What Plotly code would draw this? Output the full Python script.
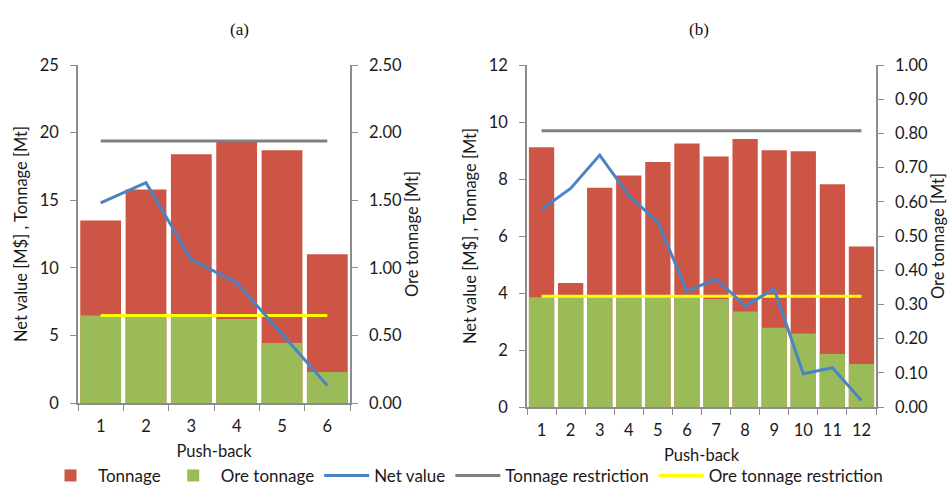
import plotly.graph_objects as go

# ---------------- data ----------------
pb_a = ["1", "2", "3", "4", "5", "6"]
tonnage_a = [13.5, 15.8, 18.4, 19.3, 18.7, 11.0]
ore_a = [0.647, 0.647, 0.647, 0.622, 0.444, 0.230]
net_a = [14.8, 16.3, 10.6, 8.9, 5.1, 1.3]
ton_restr_a = 19.37
ore_restr_a = 0.647

pb_b = ["1", "2", "3", "4", "5", "6", "7", "8", "9", "10", "11", "12"]
tonnage_b = [9.11, 4.35, 7.69, 8.12, 8.60, 9.25, 8.79, 9.40, 9.01, 8.97, 7.82, 5.63]
ore_b = [0.321, 0.324, 0.324, 0.324, 0.324, 0.324, 0.316, 0.279, 0.232, 0.215, 0.155, 0.126]
net_b = [6.94, 7.67, 8.84, 7.42, 6.49, 4.06, 4.50, 3.55, 4.14, 1.17, 1.38, 0.23]
ton_restr_b = 9.69
ore_restr_b = 0.324

left_ticks_a = [0, 5, 10, 15, 20, 25]
right_ticks_a = [0.0, 0.5, 1.0, 1.5, 2.0, 2.5]
left_ticks_b = [0, 2, 4, 6, 8, 10, 12]
right_ticks_b = [round(0.1 * i, 2) for i in range(11)]

# ---------------- styles ----------------
RED = "#CD5545"
GREEN = "#9BBB59"
BLUE = "#4A84C4"
GREY = "#7F7F7F"
YELLOW = "#FFFF00"
AXC = "#8C8C8C"
FONT = "Lato"
FS = 16.5
TXT = "#1a1a1a"

fig = go.Figure()

def add_panel(x, tonnage, ore, net, ton_r, ore_r, xa, ya, ya2, ya3, width, show):
    fig.add_trace(go.Bar(x=x, y=tonnage, name="Tonnage", marker=dict(color=RED, line=dict(width=0)),
                         width=width, xaxis=xa, yaxis=ya, showlegend=show, legendrank=1))
    fig.add_trace(go.Bar(x=x, y=ore, name="Ore tonnage", marker=dict(color=GREEN, line=dict(width=0)),
                         width=width, xaxis=xa, yaxis=ya2, showlegend=show, legendrank=2))
    fig.add_trace(go.Scatter(x=x, y=[ore_r] * len(x), name="Ore tonnage restriction", mode="lines",
                             line=dict(color=YELLOW, width=3), xaxis=xa, yaxis=ya2,
                             showlegend=show, legendrank=5))
    fig.add_trace(go.Scatter(x=x, y=net, name="Net value", mode="lines",
                             line=dict(color=BLUE, width=3), xaxis=xa, yaxis=ya3,
                             showlegend=show, legendrank=3))
    fig.add_trace(go.Scatter(x=x, y=[ton_r] * len(x), name="Tonnage restriction", mode="lines",
                             line=dict(color=GREY, width=3), xaxis=xa, yaxis=ya3,
                             showlegend=show, legendrank=4))

add_panel(pb_a, tonnage_a, ore_a, net_a, ton_restr_a, ore_restr_a, "x", "y", "y2", "y3", 0.9, True)
add_panel(pb_b, tonnage_b, ore_b, net_b, ton_restr_b, ore_restr_b, "x2", "y4", "y5", "y6", 0.87, False)

H = 489.0
W = 950.0
def py(p):
    return 1 - p / H

tfont = dict(family=FONT, size=FS, color=TXT)
xcommon = dict(type="category", showline=True, linecolor=AXC, linewidth=1.5, ticks="outside",
               tickson="boundaries", ticklen=6, tickcolor=AXC, tickfont=tfont,
               showgrid=False, zeroline=False, ticklabelstandoff=7,
               title=dict(text="Push-back", font=tfont, standoff=11))
ycommon = dict(showline=True, linecolor=AXC, linewidth=1.5, ticks="outside", ticklen=6, tickcolor=AXC,
               tickfont=tfont, showgrid=False, zeroline=False,
               ticklabelstandoff=8)

fig.update_layout(
    template="none",
    width=950, height=489,
    margin=dict(l=0, r=0, t=0, b=0, autoexpand=False),
    paper_bgcolor="white", plot_bgcolor="rgba(0,0,0,0)",
    barmode="overlay",
    font=dict(family=FONT, size=FS, color=TXT),
    xaxis=dict(domain=[78 / W, 350 / W], anchor="y", **xcommon),
    yaxis=dict(domain=[py(403), py(65)], anchor="x", range=[0, 25], tickvals=left_ticks_a,
               title=dict(text="Net value [M$] , Tonnage [Mt]", font=tfont, standoff=8),
               **ycommon),
    yaxis2=dict(overlaying="y", side="right", anchor="x", range=[0, 2.5], tickvals=right_ticks_a,
                tickformat=".2f",
                title=dict(text="Ore tonnage [Mt]", font=tfont, standoff=5),
                **ycommon),
    yaxis3=dict(overlaying="y", anchor="x", range=[0, 25], visible=False),
    xaxis2=dict(domain=[527 / W, 876 / W], anchor="y4", **xcommon),
    yaxis4=dict(domain=[py(407), py(65)], anchor="x2", range=[0, 12], tickvals=left_ticks_b,
                title=dict(text="Net value [M$] , Tonnage [Mt]", font=tfont, standoff=8),
                **ycommon),
    yaxis5=dict(overlaying="y4", side="right", anchor="x2", range=[0, 1.0], tickvals=right_ticks_b,
                tickformat=".2f",
                title=dict(text="Ore tonnage [Mt]", font=tfont, standoff=5),
                **ycommon),
    yaxis6=dict(overlaying="y4", anchor="x2", range=[0, 12], visible=False),
    legend=dict(orientation="h", x=0.49, xanchor="center", y=-0.01, yanchor="bottom",
                font=dict(family=FONT, size=17, color=TXT), bgcolor="rgba(0,0,0,0)",
                traceorder="normal", itemwidth=45),
    annotations=[
        dict(text="(a)", x=228 / W, y=py(18), xref="paper", yref="paper", showarrow=False,
             font=dict(family="Liberation Serif", size=17, color="#111")),
        dict(text="(b)", x=711 / W, y=py(18), xref="paper", yref="paper", showarrow=False,
             font=dict(family="Liberation Serif", size=17, color="#111")),
    ],
)

fig.write_html("out.html")
